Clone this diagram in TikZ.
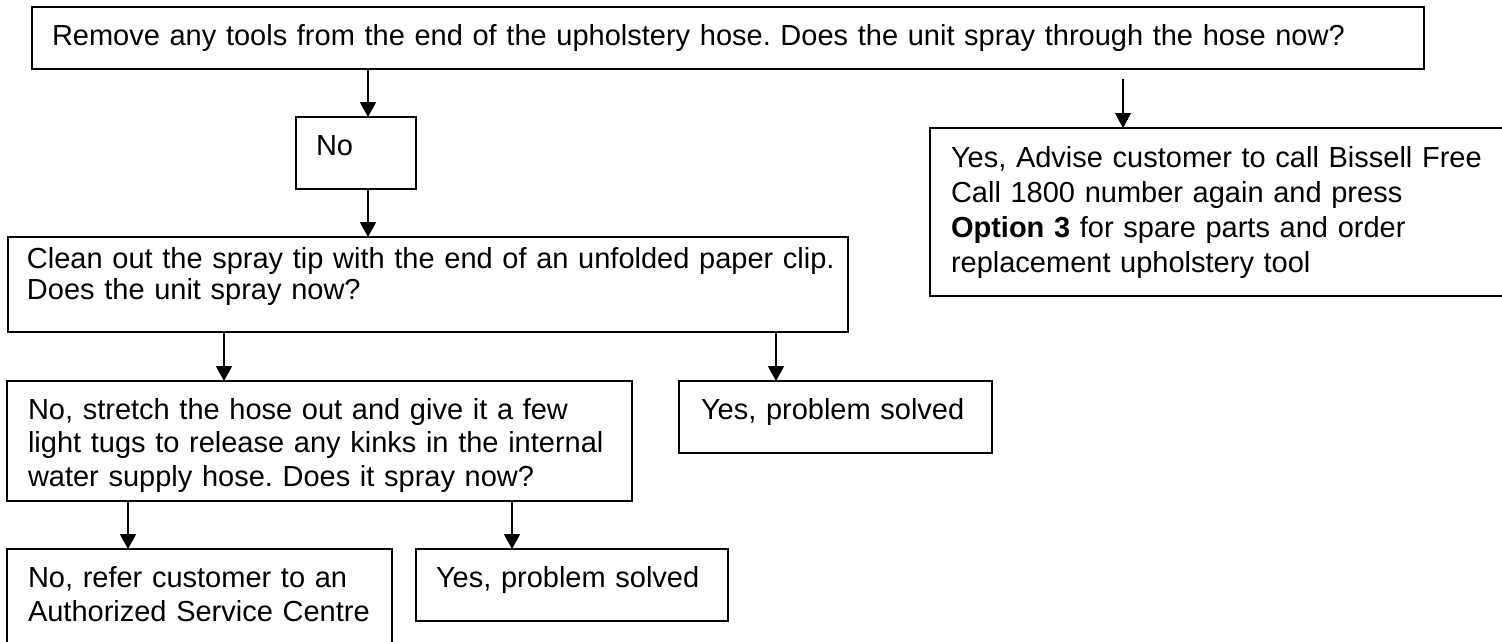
\documentclass[tikz,border=0pt]{standalone}
\usepackage{fontspec}
\setmainfont{Liberation Sans}
\usetikzlibrary{arrows.meta}
\frenchspacing

\begin{document}
\begin{tikzpicture}[x=1pt, y=-1pt,
    box/.style={draw=black, line width=2pt, inner sep=0pt, outer sep=0pt,
                anchor=north west, fill=white},
    thinbox/.style={box, line width=1.3pt},
    txt/.style={inner sep=0pt, outer sep=0pt, anchor=base west,
                text width=1400pt, align=left,
                font=\fontsize{29}{33.5}\selectfont},
    arr/.style={line width=2pt, -{Triangle[width=16pt,length=15pt]}},
    thinarr/.style={arr, line width=1.3pt}]

  % page area
  \clip (0,0) rectangle (1502,641);
  \fill[white] (0,0) rectangle (1502,641);

  % boxes
  \node[box, minimum width=1392pt, minimum height=62pt] (top) at (32,7) {};
  \node[box, minimum width=120pt, minimum height=72pt] (no) at (296,117) {};
  \node[box, minimum width=840pt, minimum height=95pt] (clean) at (8,237) {};
  \node[thinbox, minimum width=700pt, minimum height=168pt] (advise) at (930,128) {};
  \node[box, minimum width=625pt, minimum height=120pt] (stretch) at (7,381) {};
  \node[box, minimum width=313pt, minimum height=72pt] (solvedA) at (679,381) {};
  \node[box, minimum width=385pt, minimum height=150pt] (refer) at (7,549) {};
  \node[box, minimum width=312pt, minimum height=72pt] (solvedB) at (416,549) {};

  % texts
  \node[txt] (ttop) at (52,45)
    {Remove any tools from the end of the upholstery hose. Does the unit spray through the hose now?};
  \node[txt] (tno) at (316,155) {No};
  \node[txt, font=\fontsize{29}{31.5}\selectfont] (tclean) at (27,268)
    {Clean out the spray tip with the end of an unfolded paper clip.\\Does the unit spray now?};
  \node[txt, font=\fontsize{29}{35}\selectfont] (tadvise) at (951,167)
    {Yes, Advise customer to call Bissell Free\\Call 1800 number again and press\\\textbf{Option 3} for spare parts and order\\replacement upholstery tool};
  \node[txt] (tstretch) at (28,419)
    {No, stretch the hose out and give it a few\\light tugs to release any kinks in the internal\\water supply hose. Does it spray now?};
  \node[txt] (tsolvedA) at (701,419) {Yes, problem solved};
  \node[txt, font=\fontsize{29}{34}\selectfont] (trefer) at (28,587)
    {No, refer customer to an\\Authorized Service Centre};
  \node[txt] (tsolvedB) at (436,587) {Yes, problem solved};

  % connectors
  \draw[arr] ([xshift=72pt]no.north west |- top.south) -- ([xshift=72pt]no.north west);
  \draw[arr] ([xshift=72pt]no.south west) -- ([xshift=72pt]no.south west |- clean.north);
  \draw[thinarr, shorten <=10pt] ([xshift=193pt]advise.north west |- top.south) -- ([xshift=193pt]advise.north west);
  \draw[arr] ([xshift=217pt]stretch.north west |- clean.south) -- ([xshift=217pt]stretch.north west);
  \draw[arr] ([xshift=97pt]solvedA.north west |- clean.south) -- ([xshift=97pt]solvedA.north west);
  \draw[arr] ([xshift=121pt]refer.north west |- stretch.south) -- ([xshift=121pt]refer.north west);
  \draw[arr] ([xshift=96pt]solvedB.north west |- stretch.south) -- ([xshift=96pt]solvedB.north west);
\end{tikzpicture}
\end{document}
